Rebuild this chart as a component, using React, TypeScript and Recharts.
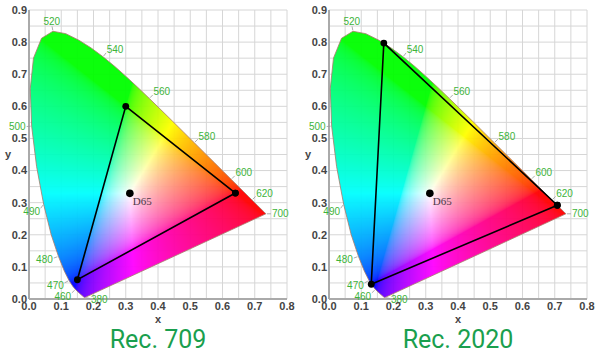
import React, { useMemo } from 'react';
import { ScatterChart, Scatter, XAxis, YAxis, CartesianGrid, ReferenceArea } from 'recharts';

// CIE 1931 2° spectral locus (wavelength, x, y)
const LOCUS_NM = [
  380, 400, 420, 430, 440, 450, 460, 465, 470, 475, 480, 485, 490, 495, 500, 505, 510, 515, 520, 525,
  530, 535, 540, 545, 550, 555, 560, 565, 570, 575, 580, 585, 590, 595, 600, 605, 610, 615, 620, 625,
  630, 640, 650, 660, 680, 700,
];
const LOCUS_X = [
  0.1741, 0.1733, 0.1714, 0.1689, 0.1644, 0.1566, 0.144, 0.1355, 0.1241, 0.1096, 0.0913, 0.0687, 0.0454,
  0.0235, 0.0082, 0.0039, 0.0139, 0.0389, 0.0743, 0.1142, 0.1547, 0.1929, 0.2296, 0.2658, 0.3016, 0.3373,
  0.3731, 0.4087, 0.4441, 0.4788, 0.5125, 0.5448, 0.5752, 0.6029, 0.627, 0.6482, 0.6658, 0.6801, 0.6915,
  0.7006, 0.7079, 0.719, 0.726, 0.73, 0.7334, 0.7347,
];
const LOCUS_Y = [
  0.005, 0.0048, 0.0051, 0.0069, 0.0109, 0.0177, 0.0297, 0.0399, 0.0578, 0.0868, 0.1327, 0.2007, 0.295,
  0.4127, 0.5384, 0.6548, 0.7502, 0.812, 0.8338, 0.8262, 0.8059, 0.7816, 0.7543, 0.7243, 0.6923, 0.6589,
  0.6245, 0.5896, 0.5547, 0.5202, 0.4866, 0.4544, 0.4242, 0.3965, 0.3725, 0.3514, 0.334, 0.3197, 0.3083,
  0.2993, 0.292, 0.2809, 0.274, 0.27, 0.2666, 0.2653,
];

const LABEL_NM = [380, 460, 470, 480, 490, 500, 520, 540, 560, 580, 600, 620, 700];

const X_TICKS = [0, 0.1, 0.2, 0.3, 0.4, 0.5, 0.6, 0.7, 0.8];
const Y_TICKS = [0, 0.1, 0.2, 0.3, 0.4, 0.5, 0.6, 0.7, 0.8, 0.9];

// primaries R, G, B
const REC709_X = [0.64, 0.3, 0.15];
const REC709_Y = [0.33, 0.6, 0.06];
const REC2020_X = [0.708, 0.17, 0.131];
const REC2020_Y = [0.292, 0.797, 0.046];

const WHITE_NAME = 'D65';
const WHITE_X = 0.3127;
const WHITE_Y = 0.329;

const X_MAX = 0.8;
const Y_MAX = 0.9;

const locusPoints = LOCUS_NM.map((nm, i) => ({ nm, x: LOCUS_X[i], y: LOCUS_Y[i] }));
const outlineData = [...locusPoints, locusPoints[0]];

const labelData = LABEL_NM.map((nm) => {
  const i = LOCUS_NM.indexOf(nm);
  let dx: number;
  let dy: number;
  if (i === 0) {
    dx = 1; dy = 0.25;
  } else if (i === LOCUS_NM.length - 1) {
    dx = 1; dy = 0;
  } else if (nm === 490) {
    // pushed below the 0.3 tick, as in the original
    dx = -0.6; dy = 0.8;
  } else {
    const tx = LOCUS_X[i + 1] - LOCUS_X[i - 1];
    const ty = LOCUS_Y[i + 1] - LOCUS_Y[i - 1];
    // outward normal, in screen direction (y down)
    dx = -ty; dy = -tx;
  }
  const len = Math.hypot(dx, dy);
  return { nm, x: LOCUS_X[i], y: LOCUS_Y[i], dx: dx / len, dy: dy / len };
});

const gridX = Array.from({ length: 17 }, (_, i) => +(i * 0.05).toFixed(2));
const gridY = Array.from({ length: 19 }, (_, i) => +(i * 0.05).toFixed(2));

const gamma = (c: number) => (c <= 0.0031308 ? 12.92 * c : 1.055 * Math.pow(c, 1 / 2.4) - 0.055);

// colour field xy -> sRGB, masked by the locus
function buildField(w: number, h: number): string {
  const field = document.createElement('canvas');
  field.width = w;
  field.height = h;
  const fctx = field.getContext('2d')!;
  const img = fctx.createImageData(w, h);
  for (let j = 0; j < h; j++) {
    let y = Y_MAX * (1 - (j + 0.5) / h);
    if (y < 0.002) y = 0.002;
    for (let i = 0; i < w; i++) {
      const x = (X_MAX * (i + 0.5)) / w;
      const X = x / y;
      const Z = (1 - x - y) / y;
      let r = 3.2406 * X - 1.5372 - 0.4986 * Z;
      let g = -0.9689 * X + 1.8758 + 0.0415 * Z;
      let b = 0.0557 * X - 0.204 + 1.057 * Z;
      r = Math.max(r, 0); g = Math.max(g, 0); b = Math.max(b, 0);
      const m = Math.max(r, g, b) || 1;
      const k = (j * w + i) * 4;
      img.data[k] = Math.round(255 * gamma(r / m));
      img.data[k + 1] = Math.round(255 * gamma(g / m));
      img.data[k + 2] = Math.round(255 * gamma(b / m));
      img.data[k + 3] = 255;
    }
  }
  fctx.putImageData(img, 0, 0);

  const out = document.createElement('canvas');
  out.width = w;
  out.height = h;
  const ctx = out.getContext('2d')!;
  ctx.beginPath();
  locusPoints.forEach((p, i) => {
    const px = (p.x / X_MAX) * w;
    const py = (1 - p.y / Y_MAX) * h;
    if (i === 0) ctx.moveTo(px, py);
    else ctx.lineTo(px, py);
  });
  ctx.closePath();
  ctx.fillStyle = '#000';
  ctx.fill();
  ctx.globalCompositeOperation = 'source-in';
  ctx.drawImage(field, 0, 0);
  return out.toDataURL();
}

const TICK_FONT = { fontSize: 11, fontWeight: 700, fill: '#444', fontFamily: '"Liberation Sans", Arial, sans-serif' };

const LabelShape = (props: any) => {
  const { cx, cy, payload } = props;
  const { dx, dy, nm } = payload;
  const anchor = dx > 0.4 ? 'start' : dx < -0.4 ? 'end' : 'middle';
  const dist = 6;
  return (
    <g>
      <line x1={cx + dx * 1} y1={cy + dy * 1} x2={cx + dx * 5} y2={cy + dy * 5} stroke="#999" strokeWidth={0.8} />
      <text
        x={cx + dx * dist}
        y={cy + dy * dist + 3.5 * (1 + dy)}
        textAnchor={anchor}
        fontSize={10}
        fill="#3db43a"
        fontFamily='"Liberation Sans", Arial, sans-serif'
      >
        {nm}
      </text>
    </g>
  );
};

const WhiteShape = (props: any) => (
  <g>
    <circle cx={props.cx} cy={props.cy} r={3.8} fill="#000" />
    <text x={props.cx + 3} y={props.cy + 12} fontSize={11} fill="#4a3848" fontFamily='"Liberation Serif", "DejaVu Serif", serif'>
      {props.payload.name}
    </text>
  </g>
);

// axis title "x" plus the panel caption underneath
const bottomLabel = (title: string) => (props: any) => {
  const { x, y, width } = props.viewBox;
  const mid = x + width / 2;
  return (
    <g>
      <text x={mid} y={y + 24} textAnchor="middle" {...TICK_FONT}>
        x
      </text>
      <text x={mid} y={y + 49} textAnchor="middle" fontSize={25} fill="#1a9f4e" fontFamily="Roboto, sans-serif">
        {title}
      </text>
    </g>
  );
};

const Gamut = ({ title, xs, ys, field }: { title: string; xs: number[]; ys: number[]; field: string }) => {
  const tri = xs.map((x, i) => ({ x, y: ys[i] }));
  const triData = [...tri, tri[0]];
  return (
    <ScatterChart width={300} height={354} margin={{ top: 10, right: 13, bottom: 0, left: 0 }}>
      <CartesianGrid stroke="#d6d6d6" verticalValues={gridX} horizontalValues={gridY} />
      <XAxis
        type="number"
        dataKey="x"
        domain={[0, X_MAX]}
        ticks={X_TICKS}
        tickFormatter={(v: number) => v.toFixed(1)}
        tick={TICK_FONT}
        tickSize={0}
        tickMargin={3}
        height={55}
        stroke="#aaa"
        strokeWidth={2}
        interval={0}
        label={{ content: bottomLabel(title) }}
      />
      <YAxis
        type="number"
        dataKey="y"
        domain={[0, Y_MAX]}
        ticks={Y_TICKS}
        tickFormatter={(v: number) => v.toFixed(1)}
        tick={TICK_FONT}
        tickSize={0}
        tickMargin={2}
        width={29}
        stroke="#aaa"
        strokeWidth={2}
        interval={0}
        label={{ value: 'y', position: 'insideLeft', offset: 5, style: TICK_FONT }}
      />
      <ReferenceArea
        x1={0}
        x2={X_MAX}
        y1={0}
        y2={Y_MAX}
        shape={(p: any) => (
          <image href={field} x={p.x} y={p.y} width={p.width} height={p.height} preserveAspectRatio="none" opacity={0.95} />
        )}
      />
      <Scatter
        data={outlineData}
        line={{ stroke: '#a87a6a', strokeWidth: 0.8 }}
        shape={() => <g />}
        isAnimationActive={false}
      />
      <Scatter data={labelData} shape={LabelShape} isAnimationActive={false} />
      <Scatter
        data={triData}
        line={{ stroke: '#000', strokeWidth: 1.6 }}
        shape={(p: any) => <circle cx={p.cx} cy={p.cy} r={3.4} fill="#000" />}
        isAnimationActive={false}
      />
      <Scatter data={[{ name: WHITE_NAME, x: WHITE_X, y: WHITE_Y }]} shape={WhiteShape} isAnimationActive={false} />
    </ScatterChart>
  );
};

export default function App() {
  const field = useMemo(() => buildField(516, 578), []);
  return (
    <div style={{ position: 'absolute', left: 0, top: 0, width: 600, height: 354, background: '#fff', display: 'flex' }}>
      <Gamut title="Rec. 709" xs={REC709_X} ys={REC709_Y} field={field} />
      <Gamut title="Rec. 2020" xs={REC2020_X} ys={REC2020_Y} field={field} />
    </div>
  );
}
